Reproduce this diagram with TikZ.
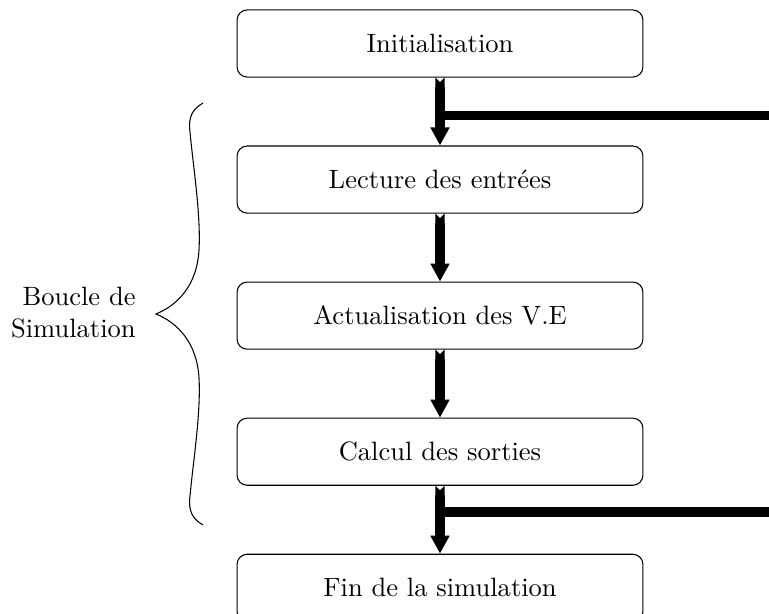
\documentclass[tikz,border=0pt]{standalone}
\usetikzlibrary{positioning,arrows.meta}

\tikzset{
  etape/.style={draw, thin, rounded corners=3.8pt, minimum width=153pt, minimum height=25.3pt},
  fleche/.style={line width=3.4pt, {Triangle Cap[reversed]}-{Triangle[length=6.8pt,width=6.8pt]}},
  retour/.style={line width=3.6pt}
}

\begin{document}
\begin{tikzpicture}[x=0.377pt,y=-0.377pt]
\useasboundingbox (0,0) rectangle (769,614);

% the steps of the simulation
\node[etape] (init) at (440,43.5) {Initialisation};
\node[etape, below=25.6pt of init] (lect) {Lecture des entrées};
\node[etape, below=25.6pt of lect] (actu) {Actualisation des V.E};
\node[etape, below=25.6pt of actu] (calc) {Calcul des sorties};
\node[etape, below=25.6pt of calc] (fin) {Fin de la simulation};

% arrows between the steps
\draw[fleche] (init) -- (lect);
\draw[fleche] (lect) -- (actu);
\draw[fleche] (actu) -- (calc);
\draw[fleche] (calc) -- (fin);

% loop lines going out to the right
\coordinate (entree) at (440,115.5);
\coordinate (entreeBord) at (769,115.5);
\coordinate (sortie) at (440,512);
\coordinate (sortieBord) at (769,512);
\draw[retour] (entree) -- (entreeBord);
\draw[retour] (sortie) -- (sortieBord);

% brace around the loop
\draw[thin] (203,103) .. controls (193,109) and (188,116) .. (190,132)
  .. controls (193,165) and (201,215) .. (199,250)
  .. controls (197,285) and (178,305) .. (156,314)
  .. controls (178,323) and (197,343) .. (199,378)
  .. controls (201,413) and (193,463) .. (190,496)
  .. controls (188,512) and (193,519) .. (203,525);
\node[align=right, anchor=east] (boucle) at (145,313) {Boucle de\\Simulation};

\end{tikzpicture}
\end{document}
